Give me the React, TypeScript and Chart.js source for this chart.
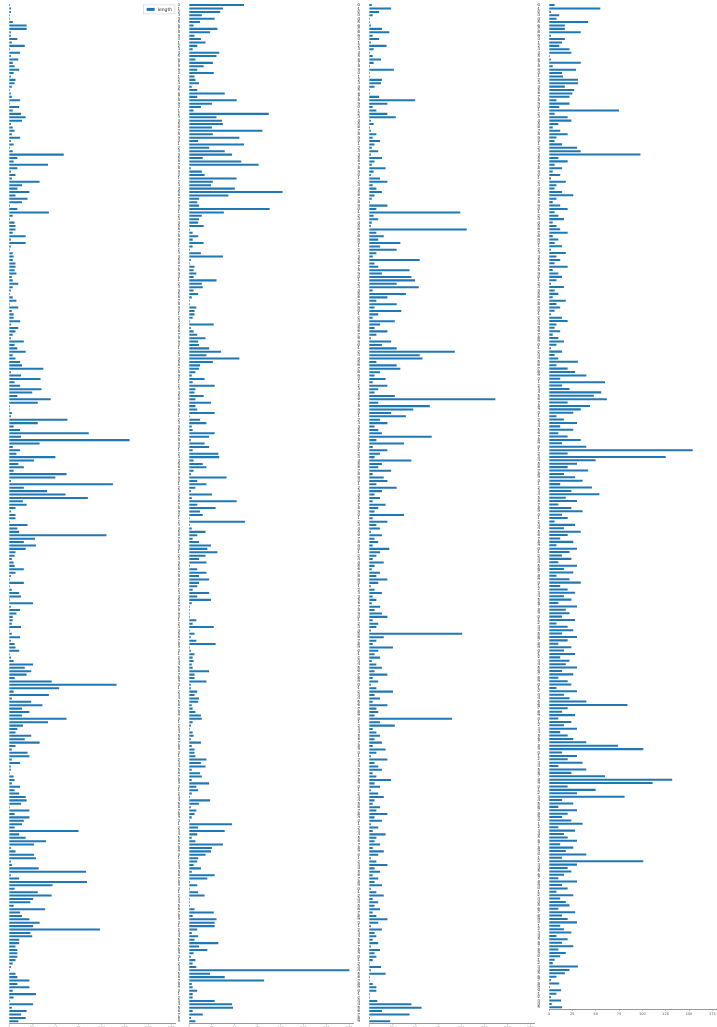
import React, { useEffect, useRef } from 'react';
import { Chart, registerables } from 'chart.js';

Chart.register(...registerables);
Chart.defaults.font.family = "'DejaVu Sans', sans-serif";

const seriesLabel = 'length';
const seriesColor = '#1f77b4';
const xTicks = [0, 25, 50, 75, 100, 125, 150, 175];

// rows 0-299
const lengthPart1 = [
  1, 2, 2, 1, 1, 4, 19, 19, 2, 2,
  9, 3, 17, 1, 12, 2, 10, 4, 6, 11,
  5, 2, 7, 6, 3, 1, 2, 3, 12, 1,
  11, 4, 13, 18, 14, 2, 4, 6, 3, 12,
  2, 5, 1, 4, 59, 9, 5, 42, 9, 2,
  7, 3, 33, 14, 9, 22, 7, 20, 14, 1,
  9, 43, 4, 1, 6, 7, 7, 4, 18, 2,
  18, 2, 1, 4, 5, 4, 7, 7, 6, 8,
  3, 4, 10, 4, 2, 1, 4, 8, 1, 10,
  3, 5, 5, 12, 2, 10, 7, 4, 2, 16,
  6, 9, 18, 4, 7, 12, 14, 37, 2, 13,
  34, 6, 12, 35, 25, 9, 45, 31, 1, 1,
  3, 2, 63, 31, 5, 12, 86, 13, 130, 33,
  4, 12, 8, 50, 27, 10, 16, 5, 62, 50,
  2, 112, 16, 41, 61, 85, 15, 19, 7, 2,
  7, 7,
  1, 20, 9, 11, 105, 28, 16, 29, 18, 7,
  6, 3, 5, 6, 16, 7, 2, 1, 16, 1,
  3, 11, 13, 1, 26, 2, 12, 8, 4, 4,
  3, 13, 1, 3, 12, 2, 6, 7, 11, 1,
  2, 5, 26, 17, 24, 19, 6, 46, 116, 54,
  5, 43, 3, 24, 36, 14, 22, 14, 62, 42,
  15, 9, 7, 24, 17, 33, 7, 3, 20, 22,
  3, 12, 2, 2, 1, 5, 6, 3, 12, 6,
  11, 18, 19, 13, 1, 22, 6, 22, 16, 14,
  6, 75, 11, 18, 40, 27, 2, 7, 27, 29,
  2, 3, 32, 83, 2, 11, 84, 47, 6, 31,
  46, 26, 23, 5, 39, 12, 14, 22, 33, 26,
  98, 23, 25, 11, 11, 7, 9, 9, 9, 7,
  4, 2, 1, 7, 9, 22, 9, 22, 4, 29,
  5, 1, 26, 3, 19, 13, 18, 10,
];

// rows 300-599
const lengthPart2 = [
  60, 37, 34, 14, 28, 12, 5, 31, 23, 6,
  13, 18, 9, 4, 33, 30, 7, 26, 16, 9,
  27, 6, 7, 11, 3, 9, 39, 9, 52, 25,
  13, 5, 87, 30, 36, 37, 25, 80, 26, 55,
  10, 60, 22, 39, 47, 15, 57, 76, 2, 14,
  17, 52, 26, 24, 50, 102, 43, 11, 9, 11,
  88, 38, 14, 11, 10, 16, 1, 4, 10, 4,
  16, 4, 1, 13, 37, 2, 1, 6, 5, 8,
  5, 30, 14, 15, 5, 10, 3, 1, 1, 8,
  6, 6, 4, 1, 27, 2, 5, 9, 18, 10,
  11, 22, 35, 19, 55, 26, 12, 11, 7, 3,
  17, 4, 28, 7, 6, 16, 7, 24, 7, 9,
  28, 1, 12, 19, 3, 4, 28, 22, 2, 17,
  22, 4, 32, 33, 5, 15, 19, 5, 2, 41,
  9, 19, 7, 2, 25, 3, 52, 9, 29, 12,
  15, 1,
  61, 1, 3, 18, 9, 4, 11, 24, 20, 31,
  18, 11, 19, 1, 9, 19, 11, 22, 11, 9,
  4, 22, 9, 24, 3, 1, 1, 1, 1, 8,
  4, 27, 1, 6, 2, 8, 29, 1, 2, 6,
  4, 5, 3, 4, 22, 6, 6, 19, 2, 2,
  9, 6, 11, 10, 3, 4, 7, 13, 14, 4,
  2, 1, 4, 5, 2, 13, 3, 6, 6, 7,
  19, 13, 18, 3, 12, 14, 3, 22, 8, 10,
  3, 1, 23, 11, 2, 8, 6, 3, 1, 47,
  10, 39, 9, 3, 7, 37, 25, 24, 18, 10,
  9, 5, 13, 3, 28, 20, 1, 9, 1, 10,
  17, 1, 1, 1, 6, 27, 4, 30, 28, 28,
  9, 3, 10, 6, 32, 11, 20, 5, 2, 7,
  4, 8, 175, 23, 39, 82, 3, 4, 9, 4,
  4, 28, 47, 48, 4, 15, 2, 7,
];

// rows 600-899
const lengthPart3 = [
  3, 24, 11, 4, 1, 1, 2, 14, 22, 4,
  11, 2, 19, 5, 1, 4, 13, 5, 1, 27,
  1, 1, 14, 13, 6, 1, 1, 11, 50, 20,
  4, 8, 20, 29, 2,
  5, 1, 2, 8, 4, 12, 6, 3, 10, 2,
  14, 6, 3, 18, 5, 2, 12, 20, 4, 8,
  14, 6, 3, 1, 20, 8, 99, 5, 10, 3,
  2, 106, 8, 16, 10, 34, 12, 30, 8, 4,
  55, 6, 10, 44, 14, 46, 50, 30, 54, 4,
  40, 20, 8, 30, 6, 35, 10, 4, 28, 12,
  6, 20, 8, 2, 24, 14, 30, 93, 55, 58,
  8, 30, 34, 12, 6, 18, 4, 20, 10, 6,
  28, 137, 10, 66, 48, 24, 40, 12, 20, 6,
  10, 14, 68, 8, 38, 4, 20, 12, 6, 46,
  14, 10, 24, 4, 16, 20, 8, 30, 14, 6,
  12, 4, 18, 10, 6, 38, 4, 20, 8, 12,
  2, 14, 6, 10, 4, 22, 12, 8, 4, 16,
  6, 3, 12, 8, 20, 10, 2, 6, 14, 4,
  8, 3, 12, 6, 14, 20, 4, 10, 8, 2,
  101, 16, 8, 4, 26, 10, 6, 12, 3, 8,
  14, 6, 20, 4, 10, 2, 8, 26, 6, 12,
  4, 20, 8, 10, 6, 90, 12, 28, 4, 8,
  12, 6, 14, 4, 18, 8, 2, 20, 6, 10,
  14, 4, 8, 24, 6, 12, 2, 10, 16, 6,
  4, 12, 8, 20, 6, 14, 2, 10, 4, 18,
  8, 6, 12, 4, 16, 10, 2, 8, 20, 6,
  12, 4, 10, 6, 14, 2, 8, 16, 4, 10,
  6, 12, 4, 8, 20, 10, 2, 14, 6, 8,
  4, 10, 2, 12, 6, 8,
  4, 1, 13, 2, 18, 1, 1, 4, 8, 8,
  1, 1, 9, 46, 57, 14, 44, 1, 23,
];

// rows 900-1195
const lengthPart4 = [
  6, 55, 2, 11, 8, 42, 17, 17, 34, 2,
  17, 14, 11, 22, 24, 1, 2, 34, 4, 29,
  14, 15, 31, 31, 17, 27, 25, 22, 8, 22,
  11, 75, 6, 20, 24,
  10, 4, 12, 20, 8, 6, 14, 30, 34, 98,
  10, 20, 6, 14, 4, 12, 2, 18, 8, 6,
  14, 26, 8, 4, 12, 20, 6, 10, 16, 4,
  8, 12, 20, 4, 10, 6, 14, 2, 18, 8,
  12, 6, 20, 4, 10, 14, 8, 2, 16, 6,
  10, 4, 18, 8, 12, 6, 2, 14, 20, 8,
  6, 12, 4, 10, 16, 8, 2, 14, 6, 10,
  31, 8, 20, 28, 40, 12, 60, 14, 22, 56,
  48, 62, 20, 44, 34, 26, 8, 16, 30, 12,
  26, 10, 20, 34, 14, 40, 154, 20, 125, 50,
  30, 20, 42, 16, 28, 36, 12, 46, 24, 54,
  18, 30, 10, 24, 36, 14, 20, 6, 28, 16,
  34, 20, 12, 26, 8, 30, 22, 14, 24, 10,
  30, 16, 26, 8, 22, 34, 12, 20, 28, 16,
  24, 10, 30, 18, 22, 14, 28, 8, 20, 26,
  14, 30, 20, 10, 24, 16, 28, 12, 22, 18,
  30, 14, 26, 10, 20, 24, 8, 30, 16, 22,
  40, 84, 20, 14, 28, 10, 24, 16, 30, 12,
  20, 26, 40, 74, 101, 14, 30, 20, 36, 10,
  40, 24, 60, 132, 111, 20, 50, 30, 81, 14,
  26, 10, 30, 20, 14, 24, 36, 10, 28, 16,
  20, 30, 12, 26, 18, 40, 14, 101, 30, 20,
  24, 16, 10, 30, 14, 20, 8, 26, 12, 18,
  22, 10, 28, 14, 20, 30, 12, 16, 24, 8,
  20, 14, 26, 10, 18, 12,
  6, 4, 31, 22, 17, 8, 2, 11, 1, 13,
  8, 2, 13, 3, 14,
];

const rowStarts = [0, 300, 600, 900];

type PanelProps = {
  values: number[];
  start: number;
  left: number;
  width: number;
  yWidth: number;
  plotBottom: number;
  showLegend: boolean;
};

// matplotlib-style legend box in the upper-right corner of the axes
const legendBox = {
  id: 'legendBox',
  afterDatasetsDraw(chart: any, _args: any, opts: any) {
    if (!opts || !opts.show) return;
    const ctx = chart.ctx;
    const ds = chart.data.datasets[0];
    const area = chart.chartArea;
    ctx.save();
    ctx.font = "4.5px 'DejaVu Sans', sans-serif";
    const tw = ctx.measureText(ds.label).width;
    const w = 3 + 8 + 3 + tw + 3;
    const h = 9;
    const x = area.right - 1 - w;
    const y = area.top + 1.5;
    ctx.fillStyle = 'rgba(255,255,255,0.85)';
    ctx.strokeStyle = '#d0d0d0';
    ctx.lineWidth = 0.6;
    ctx.fillRect(x, y, w, h);
    ctx.strokeRect(x, y, w, h);
    ctx.fillStyle = ds.backgroundColor;
    ctx.fillRect(x + 3, y + 3, 8, 3);
    ctx.fillStyle = '#222';
    ctx.textBaseline = 'middle';
    ctx.textAlign = 'left';
    ctx.fillText(ds.label, x + 14, y + h / 2);
    ctx.restore();
  },
};

function Panel({ values, start, left, width, yWidth, plotBottom, showLegend }: PanelProps) {
  const ref = useRef<HTMLCanvasElement | null>(null);
  const height = plotBottom + 12;
  useEffect(() => {
    if (!ref.current) return;
    const labels = values.map((_, i) => String(start + i));
    const chart = new Chart(ref.current, {
      type: 'bar',
      data: {
        labels,
        datasets: [
          {
            label: seriesLabel,
            data: values,
            backgroundColor: seriesColor,
            borderWidth: 0,
            barPercentage: 0.6,
            categoryPercentage: 1,
          },
        ],
      },
      options: {
        indexAxis: 'y',
        animation: false,
        responsive: false,
        maintainAspectRatio: false,
        layout: { padding: 0 },
        plugins: {
          legend: { display: false },
          tooltip: { enabled: false },
          legendBox: { show: showLegend },
        },
        scales: {
          x: {
            type: 'linear',
            min: 0,
            max: 180,
            afterBuildTicks: (scale: any) => {
              scale.ticks = xTicks.map((v) => ({ value: v }));
            },
            ticks: {
              stepSize: 25,
              includeBounds: false,
              minRotation: 0,
              maxRotation: 0,
              autoSkip: false,
              font: { size: 3.5 },
              color: '#555',
              padding: 1,
            },
            grid: { drawOnChartArea: false, drawTicks: true, tickLength: 2, color: '#999', lineWidth: 0.6 },
            border: { display: true, color: '#999', width: 1 },
            afterFit: (scale: any) => {
              scale.height = 12;
            },
          },
          y: {
            type: 'category',
            ticks: {
              autoSkip: false,
              minRotation: 0,
              maxRotation: 0,
              font: { size: 4 },
              color: '#333',
              padding: 1,
            },
            grid: { display: false },
            border: { display: false },
            afterFit: (scale: any) => {
              scale.width = yWidth;
            },
          },
        },
      },
      plugins: [legendBox],
    } as any);
    return () => chart.destroy();
  }, []);
  return (
    <canvas
      ref={ref}
      width={width}
      height={height}
      style={{ position: 'absolute', left, top: 0, width, height, display: 'block' }}
    />
  );
}

export default function App() {
  return (
    <div
      style={{
        position: 'fixed',
        left: 0,
        top: 0,
        width: 717,
        height: 1027,
        overflow: 'hidden',
        background: '#ffffff',
      }}
    >
      <Panel values={lengthPart1} start={rowStarts[0]} left={0} width={176} yWidth={9} plotBottom={1023} showLegend={true} />
      <Panel values={lengthPart2} start={rowStarts[1]} left={178} width={176} yWidth={11} plotBottom={1023} showLegend={false} />
      <Panel values={lengthPart3} start={rowStarts[2]} left={357} width={178} yWidth={12} plotBottom={1023} showLegend={false} />
      <Panel values={lengthPart4} start={rowStarts[3]} left={537} width={180} yWidth={12} plotBottom={1009} showLegend={false} />
    </div>
  );
}
